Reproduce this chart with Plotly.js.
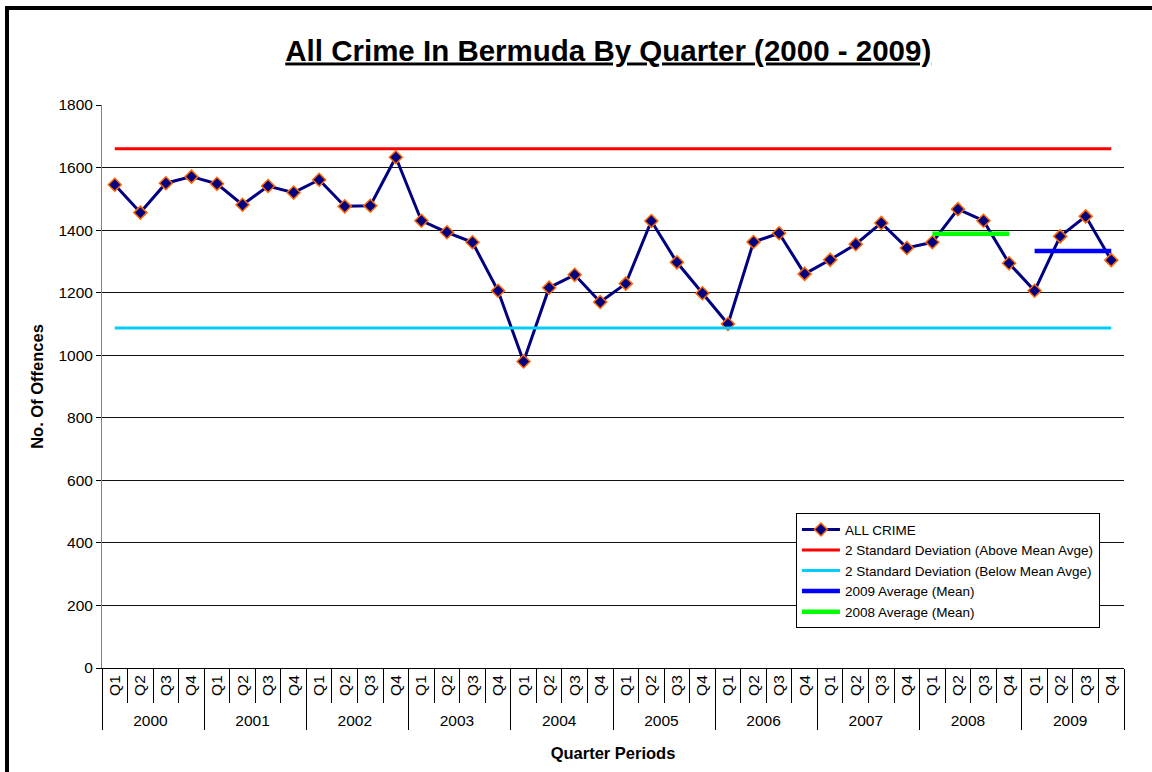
<!DOCTYPE html>
<html>
<head>
<meta charset="utf-8">
<script src="https://cdn.plot.ly/plotly-3.0.1.min.js"></script>
<style>
  html, body { margin: 0; padding: 0; background: #fff; overflow: hidden; }
  #chart { width: 1152px; height: 772px; }
  #frame { position: absolute; left: 5px; top: 6px; width: 1400px; height: 1000px;
           border-left: 4px solid #000; border-top: 4px solid #000; pointer-events: none; }
</style>
</head>
<body>
<div id="chart"></div>
<div id="frame"></div>
<script>
// ---- data ----
const years = ['2000','2001','2002','2003','2004','2005','2006','2007','2008','2009'];
const quarters = ['Q1','Q2','Q3','Q4'];
const allCrime = [
  1545, 1456, 1550, 1571,   // 2000
  1548, 1481, 1541, 1520,   // 2001
  1561, 1476, 1478, 1633,   // 2002
  1430, 1393, 1361, 1206,   // 2003
   980, 1216, 1257, 1170,   // 2004
  1229, 1429, 1297, 1198,   // 2005
  1100, 1362, 1390, 1260,   // 2006
  1305, 1355, 1423, 1343,   // 2007
  1361, 1467, 1430, 1294,   // 2008
  1206, 1380, 1444, 1304    // 2009
];
const upperSD = 1660;   // 2 standard deviations above mean
const lowerSD = 1087;   // 2 standard deviations below mean
const avg2008 = 1388;
const avg2009 = 1333;

// ---- build category arrays ----
const xYear = [], xQuarter = [];
years.forEach(y => quarters.forEach(q => { xYear.push(y); xQuarter.push(q); }));
const xAll = [xYear, xQuarter];
const n = xYear.length;

function yearSlice(yr) {
  const ys = [], qs = [];
  quarters.forEach(q => { ys.push(yr); qs.push(q); });
  return [ys, qs];
}

const font = '"Liberation Sans", Arial, sans-serif';

const traces = [
  {
    name: 'ALL CRIME', type: 'scatter', mode: 'lines+markers',
    x: xAll, y: allCrime,
    line: { color: '#000080', width: 3 },
    marker: { symbol: 'diamond', size: 10, color: '#000080', line: { color: '#FF6600', width: 1.5 } }
  },
  {
    name: '2 Standard Deviation (Above Mean Avge)', type: 'scatter', mode: 'lines',
    x: xAll, y: new Array(n).fill(upperSD),
    line: { color: '#FF0000', width: 3 }
  },
  {
    name: '2 Standard Deviation (Below Mean Avge)', type: 'scatter', mode: 'lines',
    x: xAll, y: new Array(n).fill(lowerSD),
    line: { color: '#00CCFF', width: 3 }
  },
  {
    name: '2009 Average (Mean)', type: 'scatter', mode: 'lines',
    x: yearSlice('2009'), y: new Array(4).fill(avg2009),
    line: { color: '#0000FF', width: 4.5 }
  },
  {
    name: '2008 Average (Mean)', type: 'scatter', mode: 'lines',
    x: yearSlice('2008'), y: new Array(4).fill(avg2008),
    line: { color: '#00FF00', width: 4.5 }
  }
];

const layout = {
  width: 1152, height: 772,
  paper_bgcolor: '#fff', plot_bgcolor: '#fff',
  font: { family: font, color: '#000', size: 15 },
  margin: { l: 102, r: 28, t: 105, b: 104 },
  title: {
    text: '<b><u>All Crime In Bermuda By Quarter (2000 - 2009)</u></b>',
    font: { family: font, size: 29.5, color: '#000' },
    x: 0.528, xanchor: 'center', y: 0.935, yanchor: 'middle'
  },
  xaxis: {
    type: 'multicategory',
    range: [-0.5, 39.5], autorange: false,
    tickangle: -90,
    tickfont: { family: font, size: 15.5, color: '#000' },
    ticks: 'outside', ticklen: 34, tickcolor: '#000', tickwidth: 1,
    showdividers: true, dividercolor: '#000', dividerwidth: 1,
    showline: true, linecolor: '#000', linewidth: 1,
    showgrid: false, zeroline: false,
    title: { text: '<b>Quarter Periods</b>', font: { family: font, size: 16.5, color: '#000' }, standoff: 19 }
  },
  yaxis: {
    range: [0, 1800], dtick: 200,
    tickfont: { family: font, size: 15.5, color: '#000' },
    ticks: 'outside', ticklen: 5, tickcolor: '#000',
    showline: true, linecolor: '#808080', linewidth: 1,
    showgrid: true, gridcolor: '#111', gridwidth: 1,
    zeroline: false,
    title: { text: '<b>No. Of Offences</b>', font: { family: font, size: 16.5, color: '#000' }, standoff: 10 }
  },
  legend: {
    x: 0.679, y: 0.275, xanchor: 'left', yanchor: 'top',
    bgcolor: '#fff', bordercolor: '#000', borderwidth: 1,
    font: { family: font, size: 13.5, color: '#000' },
    itemwidth: 38,
    tracegroupgap: 0
  },
  showlegend: true
};

Plotly.newPlot('chart', traces, layout, { displayModeBar: false, staticPlot: true });
</script>
</body>
</html>
